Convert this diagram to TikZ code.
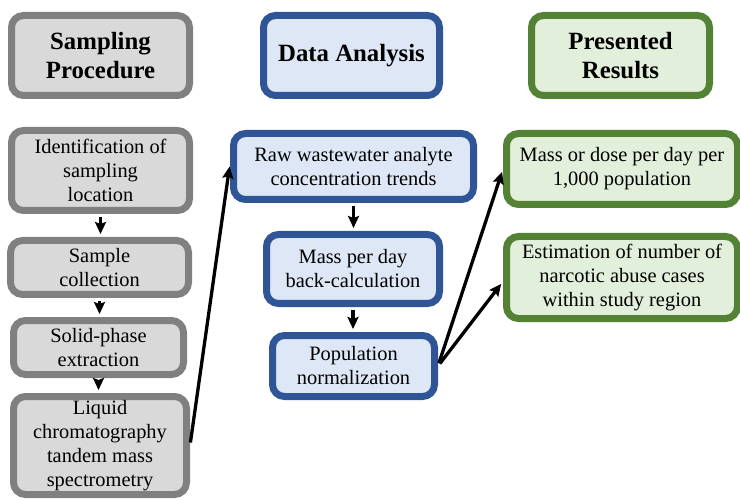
\documentclass[tikz,border=0pt]{standalone}
\usepackage{fontspec}
\setmainfont{Liberation Serif}
\usetikzlibrary{arrows.meta}
\definecolor{grayfill}{HTML}{D9D9D9}
\definecolor{grayline}{HTML}{808080}
\definecolor{bluefill}{HTML}{DEE7F5}
\definecolor{blueline}{HTML}{2F5597}
\definecolor{greenfill}{HTML}{E2EFDA}
\definecolor{greenline}{HTML}{548235}
\tikzset{
  box/.style={rectangle, rounded corners=12pt, line width=7pt, inner sep=0pt, align=center,
    font=\fontsize{20.4}{24}\selectfont},
  head/.style={box, font=\fontsize{24.8}{29}\selectfont\bfseries},
  graybox/.style={draw=grayline, fill=grayfill},
  bluebox/.style={draw=blueline, fill=bluefill},
  greenbox/.style={draw=greenline, fill=greenfill},
  arr/.style={line width=3.3pt, -{Stealth[length=12pt,width=11pt,inset=2pt]}, shorten >=3pt, shorten <=3pt}
}
\begin{document}
\begin{tikzpicture}[x=1pt,y=-1pt]
\useasboundingbox (0,0) rectangle (740,500);
% headers
\node[head,graybox,minimum width=178pt,minimum height=80pt] (H1) at (100.5,55.5) {Sampling\\Procedure};
\node[head,bluebox,minimum width=176pt,minimum height=80pt] (H2) at (351.5,55.5) {Data Analysis};
\node[head,greenbox,minimum width=178pt,minimum height=80pt] (H3) at (620.5,55.5) {Presented\\Results};
% sampling
\node[box,graybox,minimum width=178pt,minimum height=80pt] (S1) at (100.5,170.5) {Identification of\\sampling\\location};
\node[box,graybox,minimum width=178pt,minimum height=54pt] (S2) at (99.5,267.5) {Sample\\collection};
\node[box,graybox,minimum width=170pt,minimum height=54pt] (S3) at (98.5,347.5) {Solid-phase\\extraction};
\node[box,graybox,minimum width=173pt,minimum height=98pt] (S4) at (100,445.5) {Liquid\\chromatography\\tandem mass\\spectrometry};
% data analysis
\node[box,bluebox,minimum width=240pt,minimum height=66pt] (D1) at (353.5,166.5) {Raw wastewater analyte\\concentration trends};
\node[box,bluebox,minimum width=173pt,minimum height=69pt] (D2) at (353,269) {Mass per day\\back-calculation};
\node[box,bluebox,minimum width=162pt,minimum height=61pt] (D3) at (353.5,366) {Population\\normalization};
% results
\node[box,greenbox,minimum width=231pt,minimum height=71pt] (R1) at (622,169) {Mass or dose per day per\\1,000 population};
\node[box,greenbox,minimum width=231pt,minimum height=82pt] (R2) at (622,277.5) {Estimation of number of\\narcotic abuse cases\\within study region};
% arrows
\draw[arr] (S1.south) -- (S1.south |- S2.north);
\draw[arr] (S2.south) -- (S2.south |- S3.north);
\draw[arr] (S3.south) -- (S3.south |- S4.north);
\draw[arr] (D1.south) -- (D1.south |- D2.north);
\draw[arr] (D2.south) -- (D2.south |- D3.north);
\draw[arr] (S4.east) -- ([yshift=3pt]D1.west);
\draw[arr] (D3.east) -- (R1.west);
\draw[arr] (D3.east) -- ([yshift=-4pt]R2.west);
\end{tikzpicture}
\end{document}
